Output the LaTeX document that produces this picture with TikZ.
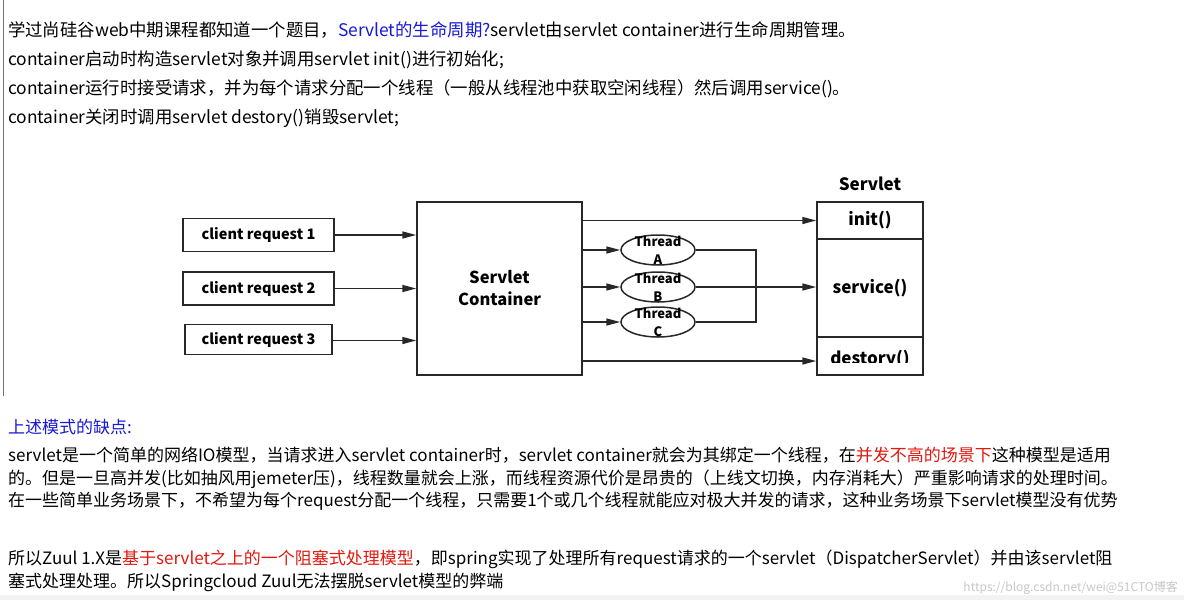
\documentclass[tikz,border=0pt]{standalone}
\usepackage{fontspec}
\setmainfont{Noto Sans CJK SC}
\usetikzlibrary{arrows.meta,shapes.geometric}
\definecolor{linkblue}{RGB}{25,25,215}
\definecolor{hotred}{RGB}{225,25,15}
\definecolor{inkgray}{RGB}{40,40,40}

\begin{document}
\begin{tikzpicture}[x=1pt,y=-1pt,
    txt/.style={anchor=base west,inner sep=0pt,font=\fontsize{17}{22}\selectfont},
    toptxt/.style={txt,font=\fontsize{17.4}{22}\selectfont},
    reqbox/.style={draw=inkgray,line width=1.5pt,minimum width=151pt,minimum height=33pt,
      inner sep=0pt,font=\fontsize{14.5}{16}\selectfont\bfseries},
    part/.style={draw=inkgray,line width=1.5pt,minimum width=106pt,inner sep=0pt,
      font=\fontsize{17}{20}\selectfont\bfseries},
    thread/.style={draw=inkgray,line width=1.5pt,ellipse,minimum width=74pt,minimum height=30pt,inner sep=0pt},
    threadtext/.style={align=center,inner sep=0pt,font=\fontsize{13}{18}\selectfont\bfseries},
    arr/.style={line width=1.5pt,draw=inkgray,-{Triangle[length=14pt,width=7pt]}},
    wire/.style={line width=1.5pt,draw=inkgray}]

    % -- page frame --
    \useasboundingbox (0,0) rectangle (1184,600);
    \fill[white] (0,0) rectangle (1184,600);
    \fill[black!5] (0,595) rectangle (1184,600);
    \draw[black!55,line width=1pt] (3,0) -- (3,396);

    % -- text above the diagram --
    \node[toptxt] (top1) at (8,36.5) {学过尚硅谷web中期课程都知道一个题目，\textcolor{linkblue}{Servlet的生命周期?}servlet由servlet container进行生命周期管理。};
    \node[toptxt] (top2) at (8,65.5) {container启动时构造servlet对象并调用servlet init()进行初始化;};
    \node[toptxt] (top3) at (8,94.5) {container运行时接受请求，并为每个请求分配一个线程（一般从线程池中获取空闲线程）然后调用service()。};
    \node[toptxt] (top4) at (8,123.5) {container关闭时调用servlet destory()销毁servlet;};

    % -- client requests --
    \node[reqbox] (req1) at (258.5,235) {client request 1};
    \node[reqbox] (req2) at (258.5,288.5) {client request 2};
    \node[reqbox,minimum width=147pt,minimum height=30pt] (req3) at (258.5,339.5) {client request 3};

    % -- container --
    \node[draw=inkgray,line width=1.5pt,minimum width=165pt,minimum height=173pt,align=center,
      font=\fontsize{16.5}{22}\selectfont\bfseries] (cont) at (499.5,288.5) {Servlet\\Container};

    % -- servlet with its three methods --
    \node[part,minimum height=37pt] (init) at (870,220.5) {init()};
    \node[part,minimum height=98pt] (service) at (870,288) {service()};
    \node[part,minimum height=38pt,text height=0pt,text depth=0pt] (destroy) at (870,356) {};
    \begin{scope}
      \clip (destroy.north west) rectangle ([yshift=13pt]destroy.south east);
      \node[font=\fontsize{17}{20}\selectfont\bfseries] (destroytext) at (870,359) {destory()};
    \end{scope}
    \node[font=\fontsize{17}{20}\selectfont\bfseries,anchor=south] (title) at (870,194) {Servlet};

    % -- threads --
    \node[thread] (tA) at (658,250) {};
    \node[thread] (tB) at (658,287) {};
    \node[thread] (tC) at (658,322) {};
    \node[threadtext] (lA) at (tA) {Thread\\A};
    \node[threadtext] (lB) at (tB) {Thread\\B};
    \node[threadtext] (lC) at (tC) {Thread\\C};
    \coordinate (join) at (756,287);

    % -- connectors --
    \draw[arr] (req1) -- (req1 -| cont.west);
    \draw[arr] (req2) -- (req2 -| cont.west);
    \draw[arr] (req3.east |- 0,340.5) -- (cont.west |- 0,340.5);
    \draw[arr] (cont.east |- init) -- (init.west);
    \draw[arr] (cont.east |- tA) -- (tA.west);
    \draw[arr] (cont.east |- tB) -- (tB.west);
    \draw[arr] (cont.east |- tC) -- (tC.west);
    \draw[wire] (tA.east) -- (tA.east -| join) -- (tC.east -| join) -- (tC.east);
    \draw[wire] (tB.east) -- (join);
    \draw[arr] (join) -- (service.west |- join);
    \draw[arr] (cont.east |- 0,361) -- (destroy.west |- 0,361);

    % -- text below the diagram --
    \node[txt] (head) at (8,433.5) {\textcolor{linkblue}{上述模式的缺点:}};
    \node[txt] (par1) at (8,461.5) {servlet是一个简单的网络IO模型，当请求进入servlet container时，servlet container就会为其绑定一个线程，在\textcolor{hotred}{并发不高的场景下}这种模型是适用};
    \node[txt] (par2) at (8,484) {的。但是一旦高并发(比如抽风用jemeter压)，线程数量就会上涨，而线程资源代价是昂贵的（上线文切换，内存消耗大）严重影响请求的处理时间。};
    \node[txt] (par3) at (8,506.5) {在一些简单业务场景下，不希望为每个request分配一个线程，只需要1个或几个线程就能应对极大并发的请求，这种业务场景下servlet模型没有优势};
    \node[txt] (end1) at (8,564.5) {所以Zuul 1.X是\textcolor{hotred}{基于servlet之上的一个阻塞式处理模型}，即spring实现了处理所有request请求的一个servlet（DispatcherServlet）并由该servlet阻};
    \node[txt] (end2) at (8,587.5) {塞式处理处理。所以Springcloud Zuul无法摆脱servlet模型的弊端};

    % -- watermark --
    \node[anchor=base east,inner sep=0pt,text=black!22,font=\fontsize{12}{14}\selectfont] (mark) at (1178,591) {https://blog.csdn.net/wei@51CTO博客};
\end{tikzpicture}
\end{document}
